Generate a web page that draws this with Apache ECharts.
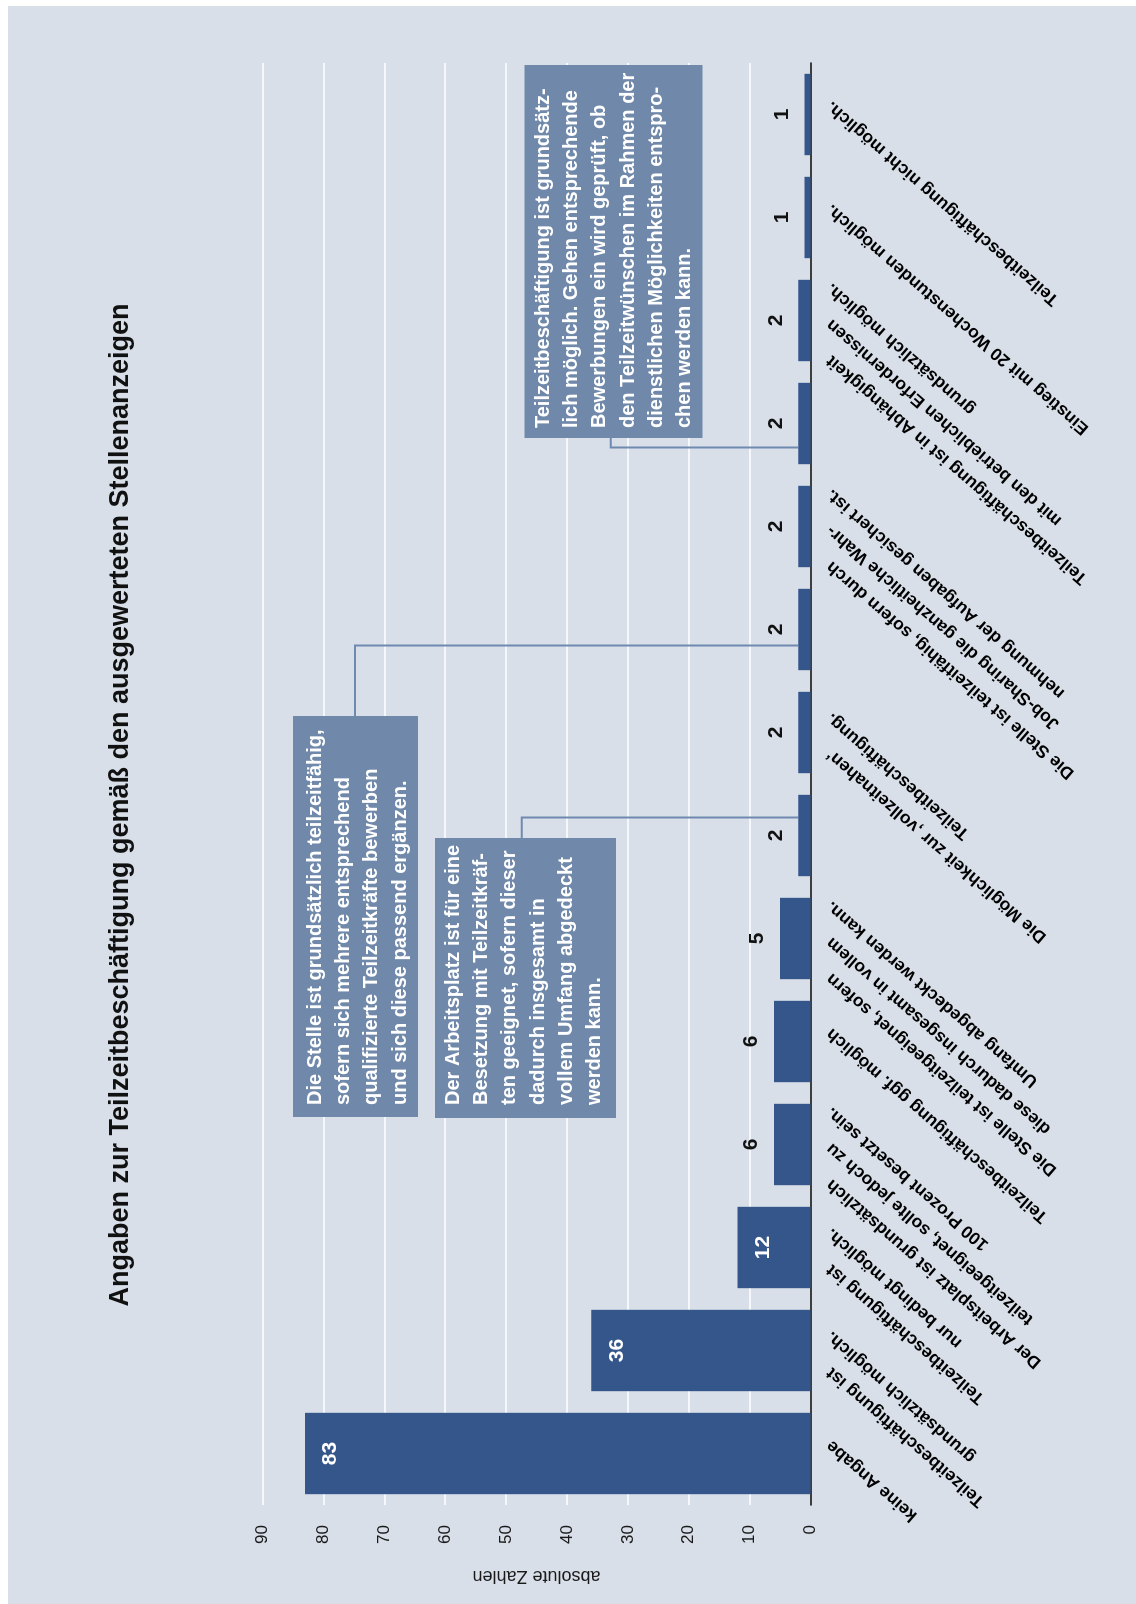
<!DOCTYPE html>
<html lang="de">
<head>
<meta charset="utf-8">
<title>Angaben zur Teilzeitbeschäftigung gemäß den ausgewerteten Stellenanzeigen</title>
<script src="https://cdn.jsdelivr.net/npm/echarts@6/dist/echarts.min.js"></script>
<style>
  html, body { margin: 0; padding: 0; width: 1136px; height: 1604px; overflow: hidden; background: #fff; }
  /* The chart is laid out in landscape and turned a quarter turn for the portrait page */
  #sheet {
    position: absolute; left: 0; top: 0; width: 1604px; height: 1136px; background: #fff;
    transform-origin: 0 0; transform: translateY(1604px) rotate(-90deg);
  }
  #chart { position: absolute; left: 0; top: 8px; width: 1598px; height: 1128px; }
</style>
</head>
<body>
<div id="sheet"><div id="chart"></div></div>
<script>
// ---- data ----
const chartTitle = 'Angaben zur Teilzeitbeschäftigung gemäß den ausgewerteten Stellenanzeigen';
const valueAxisName = 'absolute Zahlen';

const categories = [
  'keine Angabe',
  'Teilzeitbeschäftigung ist\ngrundsätzlich möglich.',
  'Teilzeitbeschäftigung ist\nnur bedingt möglich.',
  'Der Arbeitsplatz ist grundsätzlich\nteilzeitgeeignet, sollte jedoch zu\n100 Prozent besetzt sein.',
  'Teilzeitbeschäftigung ggf. möglich',
  'Die Stelle ist teilzeitgeeignet, sofern\ndiese dadurch insgesamt in vollem\nUmfang abgedeckt werden kann.',
  'Der Arbeitsplatz ist für eine\nBesetzung mit Teilzeitkräf-\nten geeignet, sofern dieser\ndadurch insgesamt in\nvollem Umfang abgedeckt\nwerden kann.',
  'Die Möglichkeit zur ‚vollzeitnahen‘\nTeilzeitbeschäftigung.',
  'Die Stelle ist grundsätzlich teilzeitfähig,\nsofern sich mehrere entsprechend\nqualifizierte Teilzeitkräfte bewerben\nund sich diese passend ergänzen.',
  'Die Stelle ist teilzeitfähig, sofern durch\nJob-Sharing die ganzheitliche Wahr-\nnehmung der Aufgaben gesichert ist.',
  'Teilzeitbeschäftigung ist grundsätz-\nlich möglich. Gehen entsprechende\nBewerbungen ein wird geprüft, ob\nden Teilzeitwünschen im Rahmen der\ndienstlichen Möglichkeiten entspro-\nchen werden kann.',
  'Teilzeitbeschäftigung ist in Abhängigkeit\nmit den betrieblichen Erfordernissen\ngrundsätzlich möglich.',
  'Einstieg mit 20 Wochenstunden möglich.',
  'Teilzeitbeschäftigung nicht möglich.'
];
const values = [83, 36, 12, 6, 6, 5, 2, 2, 2, 2, 2, 2, 1, 1];

// categories whose long text sits in a callout box instead of under the axis
const calloutCategories = [6, 8, 10];

const valueMin = 0;
const valueMax = 90;
const valueStep = 10;

// ---- styling ----
const FONT = "'Liberation Sans', Arial, Helvetica, sans-serif";
const BG = '#d8dfe9';
const BAR = '#35568a';
const BOX = '#7089aa';
const LINK = '#6f8ab0';

const LABEL_ANGLE = 49 * Math.PI / 180;  // slant of the category labels
const LABEL_STEP = 36;                    // shift along the axis between label lines
const LABEL_GAP = 18.5;                   // distance of label ends below the axis

// callout boxes: rectangle, text origin, connector start and horizontal offset on the bar
const callouts = {
  6:  { rect: [486, 427, 280, 181], text: [499, 431], from: [766, 513.7], dx: 18 },
  8:  { rect: [487, 285, 401, 125], text: [499, 293], from: [888, 347], dx: -16 },
  10: { rect: [1166, 516.5, 373, 178], text: [1176, 521], from: [1166, 602.7], dx: -24 }
};

const insideLabel = { position: 'insideTop', distance: 15, color: '#ffffff' };
const outsideLabel = { position: 'top', distance: 12, color: '#111111' };

const chart = echarts.init(document.getElementById('chart'), null, { renderer: 'canvas' });

chart.setOption({
  backgroundColor: BG,
  animation: false,
  title: {
    text: chartTitle,
    left: 'center',
    top: 94,
    textStyle: { fontFamily: FONT, fontSize: 27, fontWeight: 'bold', color: '#111' }
  },
  grid: { left: 99, right: 57, top: 254.5, bottom: 325.5, containLabel: false },
  xAxis: {
    type: 'category',
    data: categories,
    axisLine: { lineStyle: { color: '#000', width: 1.5 } },
    axisTick: { show: false },
    axisLabel: { show: false },
    splitLine: { show: false }
  },
  yAxis: {
    type: 'value',
    min: valueMin,
    max: valueMax,
    interval: valueStep,
    name: valueAxisName,
    nameLocation: 'middle',
    nameRotate: 90,
    nameGap: 62,
    nameTextStyle: { fontFamily: FONT, fontSize: 18, color: '#1a1a1a' },
    axisLine: { show: false },
    axisTick: { show: false },
    axisLabel: { margin: 20, fontFamily: FONT, fontSize: 17, color: '#1a1a1a' },
    splitLine: { lineStyle: { color: '#ffffff', width: 1.5 } }
  },
  series: [{
    type: 'bar',
    barCategoryGap: '21%',
    itemStyle: { color: BAR },
    label: { show: true, fontFamily: FONT, fontSize: 21, fontWeight: 'bold' },
    data: values.map(v => ({ value: v, label: v >= 10 ? insideLabel : outsideLabel }))
  }]
});

// ---- category labels and callouts, placed from the axis scales ----
const zeroY = chart.convertToPixel({ yAxisIndex: 0 }, 0);
const elements = [];

categories.forEach((name, idx) => {
  if (calloutCategories.indexOf(idx) >= 0) return;
  const lines = name.split('\n');
  const cx = chart.convertToPixel({ xAxisIndex: 0 }, idx);
  const mid = (lines.length - 1) / 2;
  const shift = lines.length === 1 ? 10 : -2;
  lines.forEach((line, i) => {
    elements.push({
      type: 'text',
      x: cx + (i - mid) * LABEL_STEP + shift,
      y: zeroY + LABEL_GAP,
      rotation: LABEL_ANGLE,
      silent: true,
      style: {
        text: line,
        fontFamily: FONT, fontSize: 17.5, fontWeight: 'bold',
        fill: '#000',
        align: 'right', textAlign: 'right',
        verticalAlign: 'middle', textVerticalAlign: 'middle'
      }
    });
  });
});

calloutCategories.forEach(idx => {
  const c = callouts[idx];
  const top = chart.convertToPixel({ seriesIndex: 0 }, [idx, values[idx]]);
  const bx = top[0] + c.dx;
  elements.push({
    type: 'polyline',
    silent: true,
    shape: { points: [c.from, [bx, c.from[1]], [bx, top[1]]] },
    style: { stroke: LINK, lineWidth: 2, fill: null }
  });
  elements.push({
    type: 'rect',
    silent: true,
    shape: { x: c.rect[0], y: c.rect[1], width: c.rect[2], height: c.rect[3] },
    style: { fill: BOX }
  });
  elements.push({
    type: 'text',
    silent: true,
    x: c.text[0],
    y: c.text[1],
    style: {
      text: categories[idx],
      fontFamily: FONT, fontSize: 20, fontWeight: 'bold',
      lineHeight: 28.3,
      fill: '#ffffff',
      align: 'left', textAlign: 'left',
      verticalAlign: 'top', textVerticalAlign: 'top'
    }
  });
});

chart.setOption({ graphic: { elements: elements } });
</script>
</body>
</html>
